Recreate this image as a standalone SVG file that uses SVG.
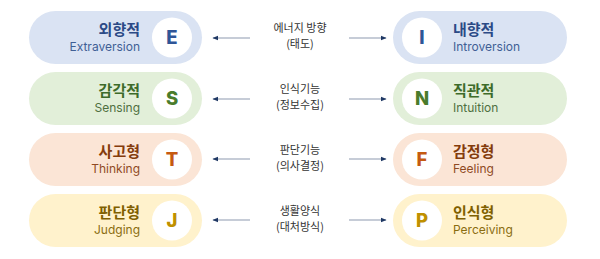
<svg xmlns="http://www.w3.org/2000/svg" width="600" height="259" viewBox="0 0 600 259">
<defs>
<marker id="ah" viewBox="0 0 10 10" refX="9" refY="5" markerWidth="6" markerHeight="6" markerUnits="userSpaceOnUse" orient="auto"><path d="M0,1 L10,5 L0,9 Z" fill="#1f3864"/></marker>
</defs>
<style>
.kr{font-family:"Noto Sans CJK KR","Noto Sans",sans-serif;font-weight:700;font-size:15px}
.en{font-family:"Inter","Noto Sans",sans-serif;font-size:12px}
.let{font-family:"Inter","Noto Sans",sans-serif;font-weight:800;font-size:18.5px;text-anchor:middle}
.mid{font-family:"Noto Sans CJK KR","Noto Sans",sans-serif;font-size:11px;fill:#333;text-anchor:middle}
.ln{stroke:#8e9ab0;stroke-width:1.2;fill:none;marker-end:url(#ah)}
.circ{fill:#fff}
.b .pill{fill:#dae3f3}.b .t{fill:#2b4a86}.b .e{fill:#3f5f95}.b .let{fill:#2f5597}
.g .pill{fill:#e2efd9}.g .t{fill:#3d6b2a}.g .e{fill:#4f6f3f}.g .let{fill:#4a7c2c}
.o .pill{fill:#fbe5d6}.o .t{fill:#843c0c}.o .e{fill:#8f4a24}.o .let{fill:#c55a11}
.y .pill{fill:#fff2cc}.y .t{fill:#7f6000}.y .e{fill:#8a6d10}.y .let{fill:#bf9000}
</style>
<g id="E" class="b"><rect class="pill" x="29" y="11" width="173" height="53" rx="26.5"/><circle class="circ" cx="172" cy="37.5" r="20"/><text class="let" x="172" y="44">E</text><text class="kr t" x="140" y="35" text-anchor="end">외향적</text><text class="en e" x="140" y="51" text-anchor="end">Extraversion</text></g>
<g id="I" class="b"><rect class="pill" x="393" y="11" width="174" height="53" rx="26.5"/><circle class="circ" cx="422" cy="37.5" r="20"/><text class="let" x="422" y="44">I</text><text class="kr t" x="453" y="35">내향적</text><text class="en e" x="453" y="51">Introversion</text></g>
<g id="S" class="g"><rect class="pill" x="29" y="72" width="173" height="53" rx="26.5"/><circle class="circ" cx="172" cy="98.5" r="20"/><text class="let" x="172" y="105">S</text><text class="kr t" x="140" y="96" text-anchor="end">감각적</text><text class="en e" x="140" y="112" text-anchor="end">Sensing</text></g>
<g id="N" class="g"><rect class="pill" x="393" y="72" width="174" height="53" rx="26.5"/><circle class="circ" cx="422" cy="98.5" r="20"/><text class="let" x="422" y="105">N</text><text class="kr t" x="453" y="96">직관적</text><text class="en e" x="453" y="112">Intuition</text></g>
<g id="T" class="o"><rect class="pill" x="29" y="133" width="173" height="53" rx="26.5"/><circle class="circ" cx="172" cy="159.5" r="20"/><text class="let" x="172" y="166">T</text><text class="kr t" x="140" y="157" text-anchor="end">사고형</text><text class="en e" x="140" y="173" text-anchor="end">Thinking</text></g>
<g id="F" class="o"><rect class="pill" x="393" y="133" width="174" height="53" rx="26.5"/><circle class="circ" cx="422" cy="159.5" r="20"/><text class="let" x="422" y="166">F</text><text class="kr t" x="453" y="157">감정형</text><text class="en e" x="453" y="173">Feeling</text></g>
<g id="J" class="y"><rect class="pill" x="29" y="194" width="173" height="53" rx="26.5"/><circle class="circ" cx="172" cy="220.5" r="20"/><text class="let" x="172" y="227">J</text><text class="kr t" x="140" y="218" text-anchor="end">판단형</text><text class="en e" x="140" y="234" text-anchor="end">Judging</text></g>
<g id="P" class="y"><rect class="pill" x="393" y="194" width="174" height="53" rx="26.5"/><circle class="circ" cx="422" cy="220.5" r="20"/><text class="let" x="422" y="227">P</text><text class="kr t" x="453" y="218">인식형</text><text class="en e" x="453" y="234">Perceiving</text></g>
<g id="labels">
<text class="mid" x="300" y="32">에너지 방향</text><text class="mid" x="300" y="48">(태도)</text>
<text class="mid" x="300" y="93">인식기능</text><text class="mid" x="300" y="109">(정보수집)</text>
<text class="mid" x="300" y="154">판단기능</text><text class="mid" x="300" y="170">(의사결정)</text>
<text class="mid" x="300" y="215">생활양식</text><text class="mid" x="300" y="231">(대처방식)</text>
</g>
<g id="connectors">
<path class="ln" d="M250,38 H213"/><path class="ln" d="M349,38 H386"/>
<path class="ln" d="M250,99 H213"/><path class="ln" d="M349,99 H386"/>
<path class="ln" d="M250,159 H213"/><path class="ln" d="M349,159 H386"/>
<path class="ln" d="M250,220 H213"/><path class="ln" d="M349,220 H386"/>
</g>
</svg>
